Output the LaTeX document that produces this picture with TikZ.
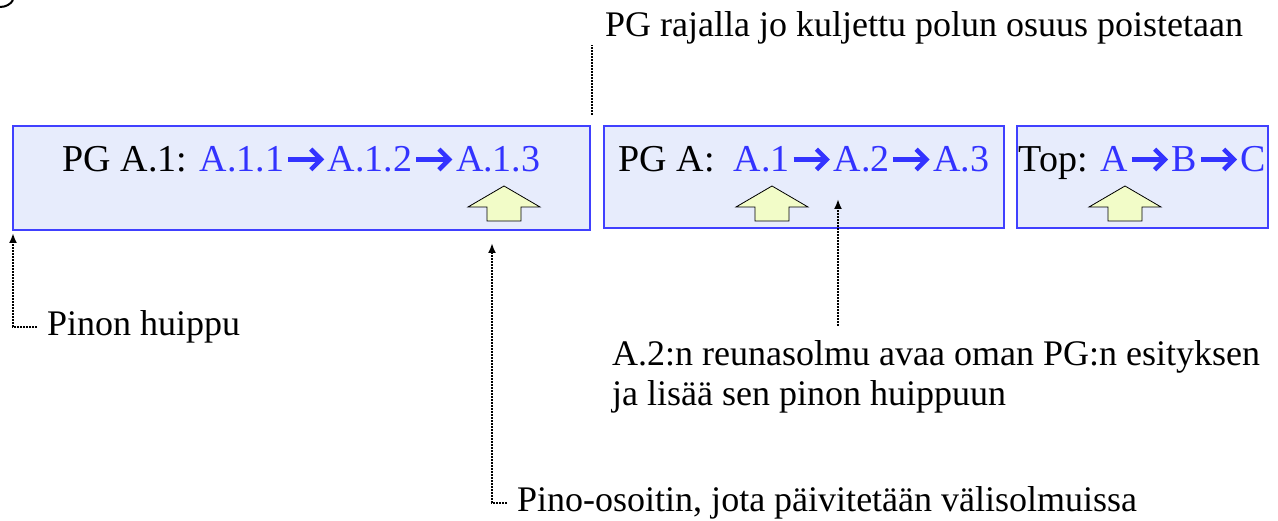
\documentclass[tikz,border=0pt]{standalone}
\usepackage{fontspec}
\setmainfont{Liberation Serif}
\usepackage{xcolor}
\usepackage{tikz}
\usetikzlibrary{calc}
\usetikzlibrary{arrows.meta}
\definecolor{boxfill}{RGB}{231,236,252}
\definecolor{boxline}{RGB}{64,64,255}
\definecolor{pgblue}{RGB}{51,51,255}
\definecolor{ptrfill}{RGB}{242,252,200}
\def\nxt{\tikz[baseline=0pt,x=1em,y=1em]{
	\useasboundingbox (0,0) rectangle (1.15,0.6);
	\draw[pgblue,line width=0.12em] (0.1,0.33)--(0.95,0.33);
	\draw[pgblue,line width=0.12em] (0.7,0.6)--(0.97,0.33)--(0.7,0.06);}%
	}
\def\pointer(#1,#2){\filldraw[ptr,shift={(#1,#2)}] (0,-21)--(36,0)--(17,0)--(17,14)--(-17,14)--(-17,0)--(-36,0)--cycle;}

\begin{document}
\begin{tikzpicture}[x=1pt,y=-1pt,
	stack/.style={draw=boxline,line width=1.6pt,fill=boxfill,inner sep=0pt},
	entry/.style={anchor=base,font=\fontsize{38}{46}\selectfont,inner sep=0pt},
	note/.style={font=\fontsize{36}{40}\selectfont,inner sep=0pt},
	hint/.style={densely dotted,line width=2pt},
	ptr/.style={draw=black,line width=0.8pt,fill=ptrfill,line join=miter}]
	\useasboundingbox (0,0) rectangle (1278,521);
	\draw[line width=2pt] (0,7) .. controls (6,7) and (11,4) .. (13,0);
	% pinon kehykset
	\node[stack,minimum width=577pt,minimum height=104pt] (pga1) at (301.5,178) {};
	\node[stack,minimum width=400pt,minimum height=102pt] (pga) at (804,177) {};
	\node[stack,minimum width=251pt,minimum height=102pt] (top) at (1142.5,177) {};
	\node[entry] (t1) at (301.5,172) {PG A.1: \textcolor{pgblue}{A.1.1\nxt A.1.2\nxt A.1.3}};
	\node[entry] (t2) at (804,172) {PG A:\ \ \textcolor{pgblue}{A.1\nxt A.2\nxt A.3}};
	\node[entry] (t3) at (1142.5,172) {Top: \textcolor{pgblue}{A\nxt B\nxt C}};
	\pointer(504,207)
	\pointer(772,207)
	\pointer(1125,207)
	% selitteet
	\node[note,anchor=base west] (rajalla) at (605,37) {PG rajalla jo kuljettu polun osuus poistetaan};
	\coordinate (raja) at (592,115);
	\draw[hint] (raja) -- (raja |- rajalla.south);
	\node[note,anchor=west,inner xsep=10pt] (huippu) at (37,327) {Pinon huippu};
	\coordinate (huipputip) at (13,233);
	\draw[hint,-{Latex[length=10pt,width=8pt]}] (huippu.west) -| (huipputip);
	\node[note,anchor=north west,align=left,inner ysep=14pt] (reuna) at (612,326) {A.2:n reunasolmu avaa oman PG:n esityksen\\ja lisää sen pinon huippuun};
	\coordinate (a2tip) at (838,199);
	\draw[hint,-{Latex[length=10pt,width=8pt]}] (a2tip |- reuna.north) -- (a2tip);
	\node[note,anchor=west,inner xsep=10pt] (osoitin) at (507,503) {Pino-osoitin, jota päivitetään välisolmuissa};
	\coordinate (osoitintip) at (492,243);
	\draw[hint,-{Latex[length=10pt,width=8pt]}] (osoitin.west) -| (osoitintip);
\end{tikzpicture}
\end{document}
